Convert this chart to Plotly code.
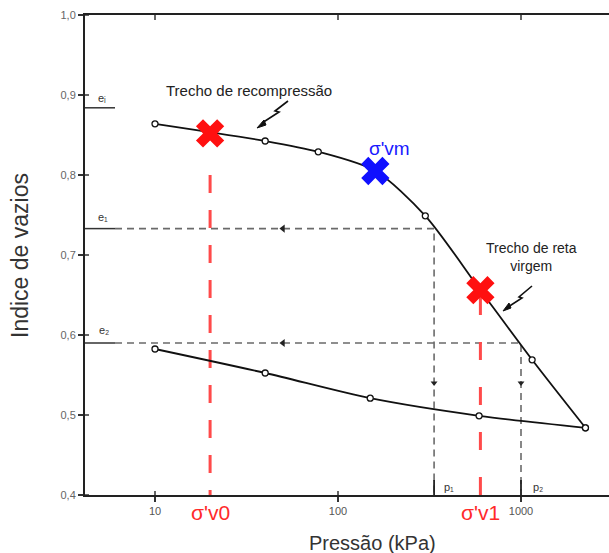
import plotly.graph_objects as go
import math

# ---------------- data ----------------
load_p = [10, 40, 78, 160, 300, 600, 1150, 2250]
load_e = [0.864, 0.8425, 0.829, 0.805, 0.749, 0.656, 0.569, 0.484]
unload_p = [2250, 590, 150, 40, 10]
unload_e = [0.484, 0.499, 0.521, 0.5525, 0.5825]

sv0 = 20      # sigma'v0
sv0_e = 0.852
svm = 160     # sigma'vm
svm_e = 0.805
sv1 = 600     # sigma'v1
sv1_e = 0.656

e_i = 0.884
e1 = 0.733
e2 = 0.59
p1 = 335
p2 = 1000

y_ticks = [0.4, 0.5, 0.6, 0.7, 0.8, 0.9, 1.0]
y_ticktext = ["0,4", "0,5", "0,6", "0,7", "0,8", "0,9", "1,0"]
x_ticks = [10, 100, 1000]
x_ticktext = ["10", "100", "1000"]

# ---------------- geometry ----------------
W, H = 609, 553
ML, MR, MT, MB = 85, 0, 15, 58
PW = W - ML - MR
PH = H - MT - MB
DEC = 183.0                      # pixels per decade
xr0 = 1 - (155 - ML) / DEC
xr1 = xr0 + PW / DEC
yr = [0.4, 1.0]


def px(xp):
    return (xp - ML) / PW


def py(yp):
    return (H - MB - yp) / PH


fig = go.Figure()

GRAY = "#6a6a6a"
DASH = "7px,5px"
x_start = 10 ** (xr0 + 30 / DEC)

# dashed leader lines e1 -> p1, e2 -> p2
fig.add_trace(go.Scatter(x=[x_start, p1, p1], y=[e1, e1, yr[0]], mode="lines",
                         line=dict(color=GRAY, width=1.6, dash=DASH),
                         hoverinfo="skip", showlegend=False))
fig.add_trace(go.Scatter(x=[x_start, p2, p2], y=[e2, e2, yr[0]], mode="lines",
                         line=dict(color=GRAY, width=1.6, dash=DASH),
                         hoverinfo="skip", showlegend=False))
# arrow heads
fig.add_trace(go.Scatter(x=[50, 50], y=[e1, e2], mode="markers",
                         marker=dict(symbol="triangle-left", size=7, color="#222"),
                         hoverinfo="skip", showlegend=False))
fig.add_trace(go.Scatter(x=[p1, p2], y=[0.54, 0.54], mode="markers",
                         marker=dict(symbol="triangle-down", size=6, color="#222"),
                         hoverinfo="skip", showlegend=False))

# red dashed verticals
RED_L = "#ff4a4a"
fig.add_trace(go.Scatter(x=[sv0, sv0], y=[0.8, yr[0]], mode="lines",
                         line=dict(color=RED_L, width=3, dash="18px,17px"),
                         hoverinfo="skip", showlegend=False))
fig.add_trace(go.Scatter(x=[sv1, sv1], y=[0.6475, yr[0]], mode="lines",
                         line=dict(color=RED_L, width=3, dash="18px,27px"),
                         hoverinfo="skip", showlegend=False))

# consolidation curves
fig.add_trace(go.Scatter(x=load_p, y=load_e, mode="lines+markers",
                         line=dict(color="#111", width=1.8, shape="spline", smoothing=0.8),
                         marker=dict(symbol="circle", size=6, color="white",
                                     line=dict(color="#111", width=1.3)),
                         hoverinfo="skip", showlegend=False))
fig.add_trace(go.Scatter(x=unload_p, y=unload_e, mode="lines+markers",
                         line=dict(color="#111", width=1.8, shape="spline", smoothing=0.8),
                         marker=dict(symbol="circle", size=6, color="white",
                                     line=dict(color="#111", width=1.3)),
                         hoverinfo="skip", showlegend=False))

# X markers
fig.add_trace(go.Scatter(x=[sv0, sv1], y=[sv0_e, sv1_e], mode="markers",
                         marker=dict(symbol="x", size=25, color="#ff1010", line=dict(width=0)),
                         hoverinfo="skip", showlegend=False))
fig.add_trace(go.Scatter(x=[svm], y=[svm_e], mode="markers",
                         marker=dict(symbol="x", size=25, color="#1010ff", line=dict(width=0)),
                         hoverinfo="skip", showlegend=False))

shapes = []
# short solid segments at e levels
for ev in [e_i, e1, e2]:
    shapes.append(dict(type="line", xref="paper", yref="y", x0=0, x1=px(115), y0=ev, y1=ev,
                       line=dict(color="#333", width=1.5)))
# p1 / p2 ticks
for pv in [p1, p2]:
    shapes.append(dict(type="line", xref="x", yref="paper", x0=pv, x1=pv, y0=0, y1=15 / PH,
                       line=dict(color="#222", width=1.8)))
# inner tick marks on the top spine and above the bottom axis
for tv in x_ticks:
    shapes.append(dict(type="line", xref="x", yref="paper", x0=tv, x1=tv, y0=1, y1=1 - 5 / PH,
                       line=dict(color="#333", width=1.5)))
    shapes.append(dict(type="line", xref="x", yref="paper", x0=tv, x1=tv, y0=0, y1=4 / PH,
                       line=dict(color="#333", width=1.5)))
for tv in y_ticks:
    shapes.append(dict(type="line", xref="paper", yref="y", x0=0, x1=4 / PW, y0=tv, y1=tv,
                       line=dict(color="#333", width=1.5)))


def bolt(pts):
    d = "M " + " L ".join(f"{px(a)},{py(b)}" for a, b in pts)
    return dict(type="path", xref="paper", yref="paper", path=d,
                line=dict(color="#111", width=1.6))


def head(pts):
    d = "M " + " L ".join(f"{px(a)},{py(b)}" for a, b in pts) + " Z"
    return dict(type="path", xref="paper", yref="paper", path=d,
                fillcolor="#111", line=dict(color="#111", width=1))


# leader bolt: recompression
shapes.append(bolt([(288, 101), (275, 111), (279, 112), (262, 123)]))
shapes.append(head([(257, 128), (264, 120), (266, 125)]))
# leader bolt: virgin line
shapes.append(bolt([(532, 286), (519, 297), (522, 298), (508, 307)]))
shapes.append(head([(503, 311), (509, 303), (511, 308)]))

ann = []


def text(x, y, t, size, color="#222", **kw):
    ann.append(dict(x=px(x), y=py(y), xref="paper", yref="paper", text=t, showarrow=False,
                    xanchor="center", yanchor="middle",
                    font=dict(size=size, color=color, family="Liberation Sans, Arial"), **kw))


text(249, 90, "Trecho de recompressão", 15)
text(531, 257, "Trecho de reta<br>virgem", 14)
text(389, 148, "σ'vm", 19, "#1a1aff")
text(210, 512, "σ'v0", 21, "#ff2a2a")
text(480, 512, "σ'v1", 21, "#ff2a2a")
text(372, 543, "Pressão (kPa)", 20, "#333")
text(20, 256, "Indice de vazios", 23, "#333", textangle=-90)
text(102, 98, "eᵢ", 11, "#333")
text(103, 217, "e₁", 11, "#333")
text(104, 330, "e₂", 11, "#333")
text(449, 487, "p₁", 11, "#333")
text(538, 487, "p₂", 11, "#333")

fig.update_layout(
    width=W, height=H,
    margin=dict(l=ML, r=MR, t=MT, b=MB, pad=0),
    paper_bgcolor="white", plot_bgcolor="white",
    shapes=shapes, annotations=ann,
    xaxis=dict(type="log", range=[xr0, xr1], showgrid=False, zeroline=False,
               showline=True, linecolor="#222", linewidth=2, mirror=True,
               tickvals=x_ticks, ticktext=x_ticktext, ticks="outside", ticklen=5,
               tickcolor="#333", tickwidth=1.5,
               tickfont=dict(size=11, color="#555", family="Liberation Sans, Arial")),
    yaxis=dict(range=yr, showgrid=False, zeroline=False,
               showline=True, linecolor="#222", linewidth=2, mirror=False,
               tickvals=y_ticks, ticktext=y_ticktext, ticks="outside", ticklen=5,
               tickcolor="#333", tickwidth=1.5,
               tickfont=dict(size=11, color="#666", family="Liberation Sans, Arial")),
)

fig.write_html("out.html")
